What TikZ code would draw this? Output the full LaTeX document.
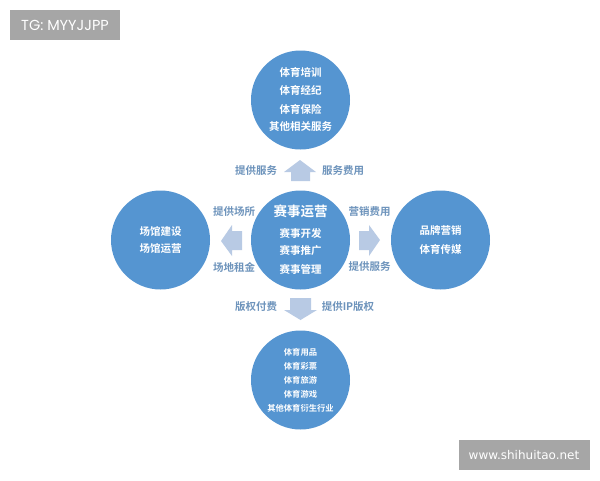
\documentclass[tikz,border=0pt]{standalone}
\usepackage{fontspec}
\setmainfont{DejaVu Sans}
\newfontfamily\cjk{Noto Sans CJK SC}[BoldFont={Noto Sans CJK SC Bold}]
\newfontfamily\tgfont{Poppins}
\definecolor{circblue}{HTML}{5595D1}
\definecolor{arrowblue}{HTML}{B8CAE4}
\definecolor{labelblue}{HTML}{6E94BC}
\definecolor{markgray}{HTML}{A6A6A6}
\tikzset{
  hub/.style={circle,fill=circblue,draw=none,minimum size=99pt,inner sep=0pt},
  big/.style={text=white,font=\cjk\bfseries\fontsize{13.5}{14}\selectfont,inner sep=0pt},
  item/.style={text=white,font=\cjk\bfseries\fontsize{10.5}{12}\selectfont,inner sep=0pt},
  small/.style={text=white,font=\cjk\bfseries\fontsize{8.3}{10}\selectfont,inner sep=0pt},
  edgelabel/.style={text=labelblue,font=\cjk\bfseries\fontsize{10.5}{12}\selectfont,inner sep=0pt},
  flow/.style={fill=arrowblue,draw=none},
  marktext/.style={text=white,inner sep=0pt}
}
\begin{document}
\begin{tikzpicture}[x=1pt,y=-1pt]
\useasboundingbox (0,0) rectangle (600,480);
\fill[white] (0,0) rectangle (600,480);
% watermarks
\fill[markgray] (10,10) rectangle (120,40);
\fill[markgray] (459,440) rectangle (590,470);
\node[marktext,font=\tgfont\fontsize{14.5}{14}\selectfont] (tg) at (65,25) {TG: MYYJJPP};
\node[marktext,font=\fontsize{12}{12}\selectfont] (web) at (524,455) {www.shihuitao.net};
% circles
\node[hub] (top) at (300.5,100) {};
\node[hub] (left) at (160.5,240) {};
\node[hub] (center) at (300.5,240) {};
\node[hub] (right) at (440.5,240) {};
\node[hub] (bottom) at (300.5,380) {};
% top items
\node[item] (t1) at (300.5,72.5) {体育培训};
\node[item] (t2) at (300.5,90.5) {体育经纪};
\node[item] (t3) at (300.5,109) {体育保险};
\node[item] (t4) at (300.5,127) {其他相关服务};
% centre
\node[big] (c0) at (300.5,211) {赛事运营};
\node[item] (c1) at (300.5,233) {赛事开发};
\node[item] (c2) at (300.5,251) {赛事推广};
\node[item] (c3) at (300.5,269) {赛事管理};
% left, right
\node[item] (l1) at (160.5,231) {场馆建设};
\node[item] (l2) at (160.5,249) {场馆运营};
\node[item] (r1) at (440.5,231) {品牌营销};
\node[item] (r2) at (440.5,249) {体育传媒};
% bottom
\node[small] (b1) at (300.5,352) {体育用品};
\node[small] (b2) at (300.5,366) {体育彩票};
\node[small] (b3) at (300.5,380) {体育旅游};
\node[small] (b4) at (300.5,394.5) {体育游戏};
\node[small] (b5) at (300.5,408) {其他体育衍生行业};
% arrows
\fill[flow] (300,160) -- (316,172) -- (310,172) -- (310,181) -- (291,181) -- (291,172) -- (284,172) -- cycle;
\fill[flow] (221,241) -- (232,225) -- (232,231) -- (242,231) -- (242,250) -- (232,250) -- (232,256) -- cycle;
\fill[flow] (380,240) -- (369,225) -- (369,231) -- (359,231) -- (359,250) -- (369,250) -- (369,256) -- cycle;
\fill[flow] (300.5,320) -- (317,310) -- (311,310) -- (311,298) -- (290,298) -- (290,310) -- (284,310) -- cycle;
% labels
\node[edgelabel] (e1) at (256,171) {提供服务};
\node[edgelabel] (e2) at (343,171) {服务费用};
\node[edgelabel] (e3) at (234,212) {提供场所};
\node[edgelabel] (e4) at (234,267) {场地租金};
\node[edgelabel] (e5) at (369.5,212) {营销费用};
\node[edgelabel] (e6) at (369.5,267) {提供服务};
\node[edgelabel] (e7) at (256,307) {版权付费};
\node[edgelabel] (e8) at (348,307) {提供IP版权};
\end{tikzpicture}
\end{document}
